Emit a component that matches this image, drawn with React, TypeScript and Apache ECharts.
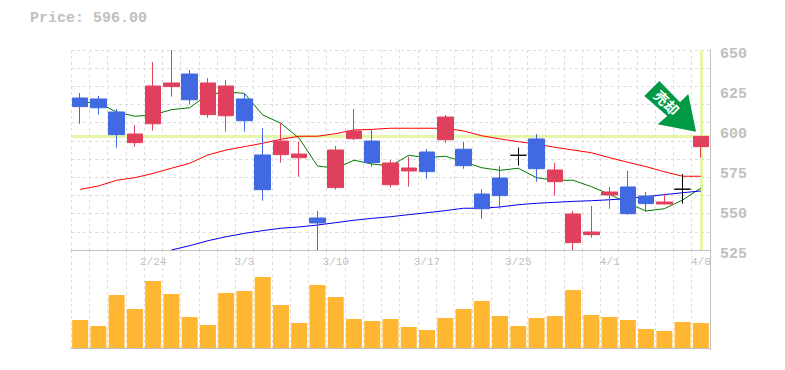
import React, { useEffect, useRef } from "react";
import * as echarts from "echarts";

const dates = ["2/18","2/19","2/20","2/21","2/24","2/25","2/26","2/27","2/28","3/3","3/4","3/5","3/6","3/7","3/10","3/11","3/12","3/13","3/14","3/17","3/18","3/19","3/21","3/24","3/25","3/26","3/27","3/28","3/31","4/1","4/2","4/3","4/4","4/7","4/8"];
const shownDates = ["2/24","3/3","3/10","3/17","3/25","4/1","4/8"];

// open, close, low, high
const candles = [
  [620,614.6,603.9,623.1],[619.4,613.9,609.6,621.3],[611.25,597.1,588.9,613.1],[592.1,597.5,589.6,603.1],
  [603.9,627.5,599.6,642.5],[627.1,629.4,620.8,650],[635,618.9,615.8,637.5],[609.6,629.4,607.7,632.5],
  [608.9,627.5,599,631.25],[619.4,605.8,599,623.1],[584.4,562.7,555.8,601.25],[584.6,593.1,579.6,604.2],
  [582.7,585,570.8,592.7],[545,541.9,525,549.4],[564,587.5,562.7,590],[594.6,599.4,593.75,613.1],
  [593.1,579.6,577,600],[565.8,579.4,564,581.25],[574.4,576.25,564.6,583.3],[586.25,574,569.6,588],
  [593.9,608.1,592,609.4],[588,577.7,575.8,592.5],[560,550.8,544.6,563],[570,559,550.8,577.5],
  [584.2,584.2,577.7,589],[594.4,575.8,567.7,597.5],[567.7,575,559,579.4],[529.6,547.5,525,549.4],
  [534.6,536.25,532.7,552.5],[559.4,561.25,550.8,564.4],[564.4,547.7,547,574.4],[558.75,554,549,561.25],
  [553.75,555,553.75,560],[563,563,554,572.5],[589.6,596,582.7,596],
];
const maShort = [617.5,616.9,611.25,608.6,609.4,612.7,613.9,622.1,623.75,622.9,609.4,604.2,594.8,577.5,576.1,581.1,578.75,577.5,584.2,582.7,583.6,580.2,576.4,574.8,576.1,570.2,568.6,568.6,564.6,559.8,554.2,549.4,550.8,556.25,563.75];
const maMid = [562.9,565,568.6,570.2,572.9,576.1,579.2,584.4,587.5,589.6,591.7,594.2,596.1,596.1,597.7,600,600.4,601.1,601.1,601.1,601.1,599.4,596.4,594.4,592.7,591.25,589.2,587.5,585.8,582.7,579.8,577.1,573.9,571.1,571.1];
const maLong = [null,null,null,null,null,525,527.7,530.8,533.3,535.4,537.1,538.6,539.4,540.6,542.1,543.6,544.8,545.8,547.1,548.3,549.6,551.1,551.1,551.9,553.3,554.2,554.8,555.4,555.8,556.4,557.1,558.3,559.6,560.8,561.9];
const volumes = [28,22,53,39,67,54,31,23,55,57,71,43,25,63,51,29,27,29,21,18,30,39,47,32,22,30,32,58,33,31,28,19,17,26,25];
const lastPrice = 596;
const priceTitle = "Price: 596.00";
const signalText = "売却";

const FONT = "'Liberation Mono', monospace";
const GRAY = "#c0c0c0";
const GRID = "#dddddd";

export default function App() {
  const ref = useRef<HTMLDivElement>(null);
  useEffect(() => {
    const chart = echarts.init(ref.current!, undefined, { renderer: "svg" });
    const split = { show: true, lineStyle: { color: GRID, type: [3, 3] as any, width: 1 } };
    chart.setOption({
      animation: false,
      backgroundColor: "#fff",
      grid: [
        { left: 71, top: 50, width: 639, height: 200 },
        { left: 71, top: 250, width: 639, height: 100 },
      ],
      xAxis: [
        {
          type: "category", gridIndex: 0, data: dates, boundaryGap: true,
          axisTick: { show: false },
          axisLine: { show: true, lineStyle: { color: GRAY, width: 1 } },
          splitLine: { ...split, interval: 0 },
          axisLabel: {
            show: true, margin: 6, fontFamily: FONT, fontSize: 11, color: GRAY,
            interval: (_: number, v: string) => shownDates.includes(v),
            hideOverlap: false,
          },
        },
        {
          type: "category", gridIndex: 1, data: dates, boundaryGap: true,
          axisTick: { show: false }, axisLabel: { show: false },
          axisLine: { show: true, lineStyle: { color: GRAY, width: 1 } },
          splitLine: { ...split, interval: 0 },
        },
      ],
      yAxis: [
        {
          type: "value", gridIndex: 0, position: "right", min: 525, max: 650, interval: 25,
          axisLine: { show: true, lineStyle: { color: GRAY, width: 1 } },
          axisTick: { show: false },
          splitLine: { show: false },
          axisLabel: {
            margin: 10, fontFamily: FONT, fontSize: 15, fontWeight: "bold", color: GRAY,
            verticalAlign: "top", lineHeight: 9,
          },
        },
        {
          type: "value", gridIndex: 0, position: "left", min: 0, max: 11, interval: 1,
          axisLine: { show: false }, axisTick: { show: false }, axisLabel: { show: false },
          splitLine: split,
        },
        {
          type: "value", gridIndex: 1, position: "right", min: -2, max: 98,
          axisLine: { show: true, lineStyle: { color: GRAY, width: 1 } },
          axisTick: { show: false }, axisLabel: { show: false }, splitLine: { show: false },
        },
      ],
      series: [
        {
          type: "line", xAxisIndex: 0, yAxisIndex: 0, data: [], z: 1, silent: true,
          markLine: {
            silent: true, symbol: "none", animation: false, label: { show: false }, z: 1,
            lineStyle: { color: "#e6f5a8", width: 3, type: "solid" },
            data: [{ yAxis: lastPrice }, { xAxis: dates.length - 1 }],
          },
        },
        { type: "line", xAxisIndex: 0, yAxisIndex: 0, data: maShort, z: 2, symbol: "none", lineStyle: { color: "#007a00", width: 1 } },
        { type: "line", xAxisIndex: 0, yAxisIndex: 0, data: maMid, z: 2, symbol: "none", lineStyle: { color: "#ff0000", width: 1 } },
        { type: "line", xAxisIndex: 0, yAxisIndex: 0, data: maLong, z: 2, symbol: "none", lineStyle: { color: "#0000ee", width: 1 } },
        {
          type: "candlestick", xAxisIndex: 0, yAxisIndex: 0, data: candles, z: 3, barWidth: 16,
          clip: true,
          itemStyle: {
            color: "#e0405e", color0: "#4169e1", borderColor: "#e0405e", borderColor0: "#4169e1",
            borderColorDoji: "#000000", borderWidth: 1,
          },
        },
        {
          type: "bar", xAxisIndex: 1, yAxisIndex: 2, data: volumes, barWidth: 16,
          itemStyle: { color: "#ffb733" },
        },
      ],
      graphic: [
        {
          type: "text", left: 30, top: 11,
          style: { text: priceTitle, fontFamily: FONT, fontSize: 15, fontWeight: "bold", fill: GRAY },
        },
        {
          type: "polygon", z: 20,
          shape: { points: [[659.3,81],[644.3,96],[667.3,116],[657.7,124.3],[696,131.7],[688.3,94],[680,102.3]] },
          style: { fill: "#009944" },
        },
        {
          type: "text", z: 21, x: 667, y: 102.5, rotation: -Math.PI / 4,
          style: {
            text: signalText, fontFamily: "'Noto Sans CJK JP'", fontSize: 14, fontWeight: "bold",
            fill: "#ffffff", align: "center", verticalAlign: "middle",
          },
        },
      ],
    });
    return () => chart.dispose();
  }, []);
  return <div ref={ref} style={{ width: 785, height: 370, position: "fixed", left: 0, top: 0 }} />;
}
